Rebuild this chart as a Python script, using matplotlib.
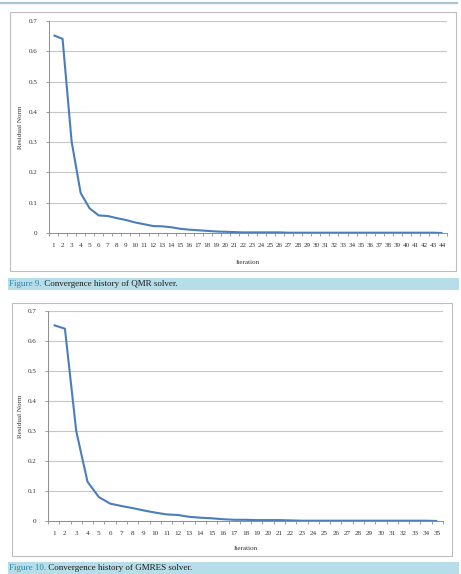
import matplotlib
matplotlib.use("Agg")
import matplotlib.pyplot as plt
from matplotlib.patches import Rectangle
from matplotlib.lines import Line2D

W, H = 461, 574

# residual norm per iteration
qmr_resid = [0.653, 0.641, 0.302, 0.132, 0.081, 0.058, 0.056, 0.049, 0.043, 0.035,
             0.029, 0.023, 0.022, 0.019, 0.014, 0.011, 0.009, 0.007, 0.005, 0.004,
             0.003, 0.002, 0.002, 0.002, 0.002, 0.002, 0.001, 0.001, 0.001, 0.001,
             0.001, 0.001, 0.001, 0.001, 0.001, 0.001, 0.001, 0.001, 0.001, 0.001,
             0.001, 0.001, 0.001, 0.0]
gmres_resid = [0.653, 0.641, 0.300, 0.131, 0.080, 0.058, 0.050, 0.043, 0.035, 0.028,
               0.022, 0.020, 0.014, 0.011, 0.009, 0.006, 0.004, 0.004, 0.003, 0.003,
               0.003, 0.002, 0.001, 0.001, 0.001, 0.001, 0.001, 0.001, 0.001, 0.001,
               0.001, 0.001, 0.001, 0.001, 0.0]
y_ticks = [0, 0.1, 0.2, 0.3, 0.4, 0.5, 0.6, 0.7]
y_ticklabels = ["0", "0.1", "0.2", "0.3", "0.4", "0.5", "0.6", "0.7"]
captions = [("Figure 9.", " Convergence history of QMR solver."),
            ("Figure 10.", " Convergence history of GMRES solver.")]

plt.rcParams["font.family"] = ["Liberation Serif", "DejaVu Serif"]

LINE = "#4A7EBB"
GRID = "#C6C6C6"
AXIS = "#8C8C8C"
CAP_BG = "#B7DDE8"
CAP_FG = "#2A86AE"
FS = 5.1

fig = plt.figure(figsize=(W / 100, H / 100), dpi=100)


def px_rect(x0, y0, x1, y1):
    """pixel box (top-left origin) -> figure fraction [l, b, w, h]"""
    return [x0 / W, 1 - y1 / H, (x1 - x0) / W, (y1 - y0) / H]


def frame(x0, y0, x1, y1, **kw):
    l, b, w, h = px_rect(x0, y0, x1, y1)
    fig.add_artist(Rectangle((l, b), w, h, transform=fig.transFigure, zorder=-5, **kw))


def chart(ax_box, frame_box, resid, iter_y):
    frame(*frame_box, facecolor="white", edgecolor="#BDBDBD", lw=0.8)
    ax = fig.add_axes(px_rect(*ax_box))
    ax.patch.set_alpha(0)
    n = len(resid)
    iters = list(range(1, n + 1))
    ax.plot(iters, resid, color=LINE, lw=1.5, solid_capstyle="butt", zorder=3)
    ax.set_xlim(0.5, n + 0.5)
    ax.set_ylim(0, 0.7)
    ax.set_yticks(y_ticks)
    ax.set_yticklabels(y_ticklabels, fontsize=FS, color="#333333")
    ax.set_xticks(iters)
    ax.set_xticklabels([str(i) for i in iters], fontsize=FS, color="#333333")
    ax.set_xticks([i + 0.5 for i in range(n + 1)], minor=True)
    ax.tick_params(axis="x", which="major", length=0, pad=7)
    ax.tick_params(axis="x", which="minor", length=2.5, width=0.6, color=AXIS, direction="out")
    ax.tick_params(axis="y", which="major", length=2.5, width=0.6, color=AXIS, pad=6)
    ax.grid(axis="y", color=GRID, lw=0.8, zorder=0)
    ax.set_axisbelow(True)
    for s in ("top", "right"):
        ax.spines[s].set_visible(False)
    for s in ("left", "bottom"):
        ax.spines[s].set_color(AXIS)
        ax.spines[s].set_linewidth(0.7)
    x0, y0, x1, y1 = ax_box
    fig.text(20 / W, 1 - (y0 + y1) / 2 / H, "Residual Norm", rotation=90,
             ha="center", va="center", fontsize=FS, color="#333333")
    fig.text((x0 + x1) / 2 / W, 1 - iter_y / H, "Iteration",
             ha="center", va="center", fontsize=FS, color="#333333")
    return ax


# thin rule at the top of the page
fig.add_artist(Line2D([0, 457 / W], [1 - 3 / H, 1 - 3 / H], transform=fig.transFigure,
                      color="#A9C3D5", lw=1.6))

chart((49, 21, 447, 233), (10, 12, 456, 271), qmr_resid, 263)
chart((48, 311, 443, 521), (12, 303, 452, 556), gmres_resid, 548)

# caption bars
for (lead, rest), (y0, y1) in zip(captions, [(278, 290), (562, 575)]):
    frame(8, y0, 459, y1, facecolor=CAP_BG, edgecolor="none")
    ty = 1 - (y0 + 6) / H
    t = fig.text(9 / W, ty, lead, ha="left", va="center", fontsize=6.5, color=CAP_FG)
    fig.canvas.draw()
    bb = t.get_window_extent()
    fig.text(bb.x1 / W, ty, rest, ha="left", va="center", fontsize=6.5, color="#1a1a1a")

fig.savefig("out.png", dpi=100)
